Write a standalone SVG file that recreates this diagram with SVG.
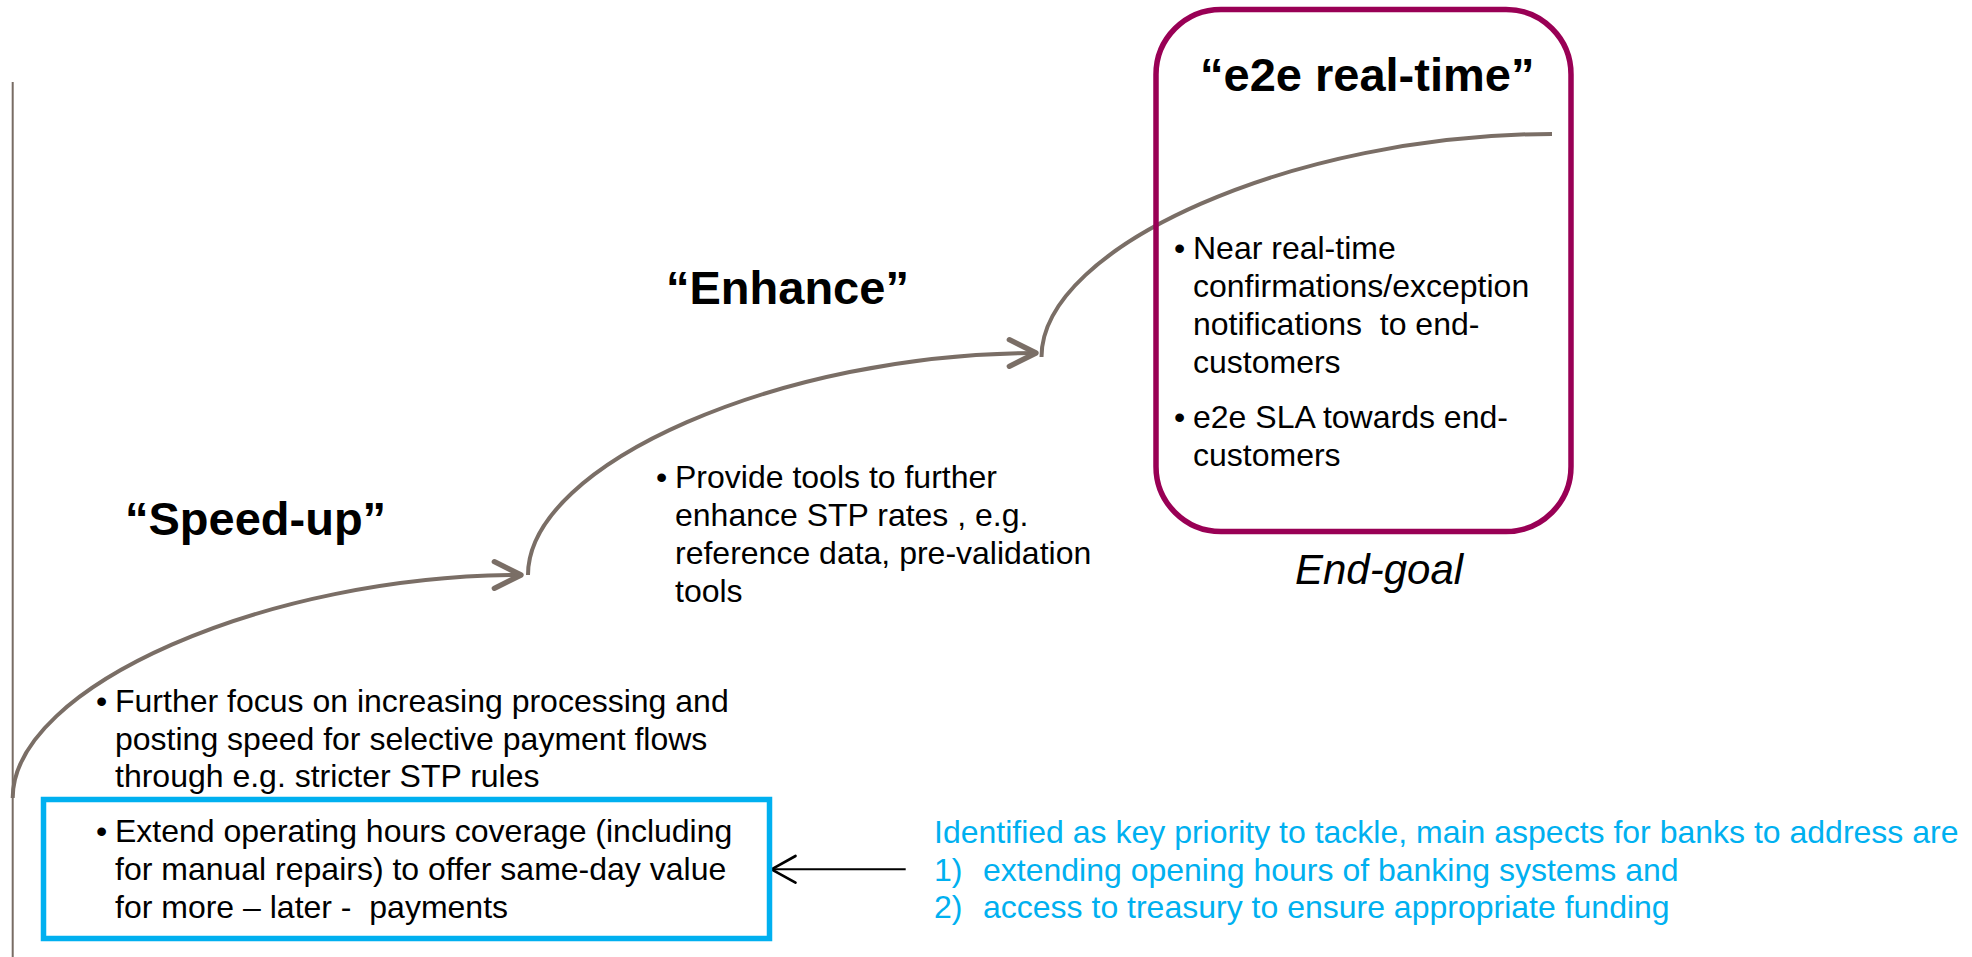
<svg xmlns="http://www.w3.org/2000/svg" width="1972" height="957" viewBox="0 0 1972 957">
  <style>
    text { font-family: "Liberation Sans", Arial, sans-serif; white-space: pre; }
    .head { font-size: 47px; font-weight: bold; fill: #000; }
    .body { font-size: 32px; fill: #000; }
    .note { font-size: 32px; fill: #00b0f0; }
    .goal { font-size: 42px; font-style: italic; fill: #000; }
    .step { fill: none; stroke: #7a6e66; stroke-width: 4; }
    .axis { fill: none; stroke: #786c64; stroke-width: 2; }
  </style>
  <defs>
    <marker id="chev-gray" markerUnits="userSpaceOnUse" markerWidth="40" markerHeight="40" viewBox="-25 -15 30 30" refX="0" refY="0" orient="auto" overflow="visible">
      <path d="M-20,-10 L0,0 L-20,10" fill="none" stroke="#7a6e66" stroke-width="4" stroke-linecap="round" stroke-linejoin="round"/>
    </marker>
    <marker id="chev-black" markerUnits="userSpaceOnUse" markerWidth="40" markerHeight="40" viewBox="-25 -15 30 30" refX="0" refY="0" orient="auto" overflow="visible">
      <path d="M-18,-10 L0,0 L-18,10" fill="none" stroke="#000" stroke-width="2" stroke-linecap="round" stroke-linejoin="round"/>
    </marker>
  </defs>

  <rect width="1972" height="957" fill="#fff"/>

  <!-- time axis -->
  <g id="axis">
    <line class="axis" x1="12.7" y1="82" x2="12.7" y2="957"/>
  </g>

  <!-- connectors: rising stage curves and the note pointer -->
  <g id="connectors">
    <path class="step" d="M12.7,798 C12.7,686.5 267.5,575 521,575" marker-end="url(#chev-gray)"/>
    <path class="step" d="M528,575 C528,463.5 782.5,353 1036,353" marker-end="url(#chev-gray)"/>
    <path class="step" d="M1041.5,357 C1041.5,245.5 1297,134 1552,134"/>
    <line x1="905.7" y1="869.3" x2="771.5" y2="869.3" stroke="#000" stroke-width="2" marker-end="url(#chev-black)"/>
  </g>

  <!-- stage 1 -->
  <g id="speed-up">
    <text class="head" x="125" y="535">“Speed-up”</text>
    <text class="body" x="96" y="712">•</text>
    <text class="body" x="115" y="712">Further focus on increasing processing and</text>
    <text class="body" x="115" y="750">posting speed for selective payment flows</text>
    <text class="body" x="115" y="787">through e.g. stricter STP rules</text>
  </g>

  <!-- highlighted item of stage 1 -->
  <g id="operating-hours">
    <rect x="43.5" y="799.5" width="726" height="139" fill="none" stroke="#00b0f0" stroke-width="5.5"/>
    <text class="body" x="96" y="842">•</text>
    <text class="body" x="115" y="842">Extend operating hours coverage (including</text>
    <text class="body" x="115" y="880">for manual repairs) to offer same-day value</text>
    <text class="body" x="115" y="918">for more – later -  payments</text>
  </g>

  <!-- stage 2 -->
  <g id="enhance">
    <text class="head" x="666" y="304">“Enhance”</text>
    <text class="body" x="656" y="488">•</text>
    <text class="body" x="675" y="488">Provide tools to further</text>
    <text class="body" x="675" y="526">enhance STP rates , e.g.</text>
    <text class="body" x="675" y="564">reference data, pre-validation</text>
    <text class="body" x="675" y="602">tools</text>
  </g>

  <!-- stage 3: end goal -->
  <g id="e2e-real-time">
    <rect x="1156" y="9.5" width="415" height="522" rx="65" ry="65" fill="none" stroke="#990055" stroke-width="5.5"/>
    <text class="head" x="1200" y="91">“e2e real-time”</text>
    <text class="body" x="1174" y="259">•</text>
    <text class="body" x="1193" y="259">Near real-time</text>
    <text class="body" x="1193" y="297">confirmations/exception</text>
    <text class="body" x="1193" y="335">notifications  to end-</text>
    <text class="body" x="1193" y="373">customers</text>
    <text class="body" x="1174" y="428">•</text>
    <text class="body" x="1193" y="428">e2e SLA towards end-</text>
    <text class="body" x="1193" y="466">customers</text>
    <text class="goal" x="1295" y="584">End-goal</text>
  </g>

  <!-- priority note -->
  <g id="priority-note">
    <text class="note" x="934" y="843">Identified as key priority to tackle, main aspects for banks to address are</text>
    <text class="note" x="934" y="881">1)</text>
    <text class="note" x="983" y="881">extending opening hours of banking systems and</text>
    <text class="note" x="934" y="918">2)</text>
    <text class="note" x="983" y="918">access to treasury to ensure appropriate funding</text>
  </g>
</svg>
